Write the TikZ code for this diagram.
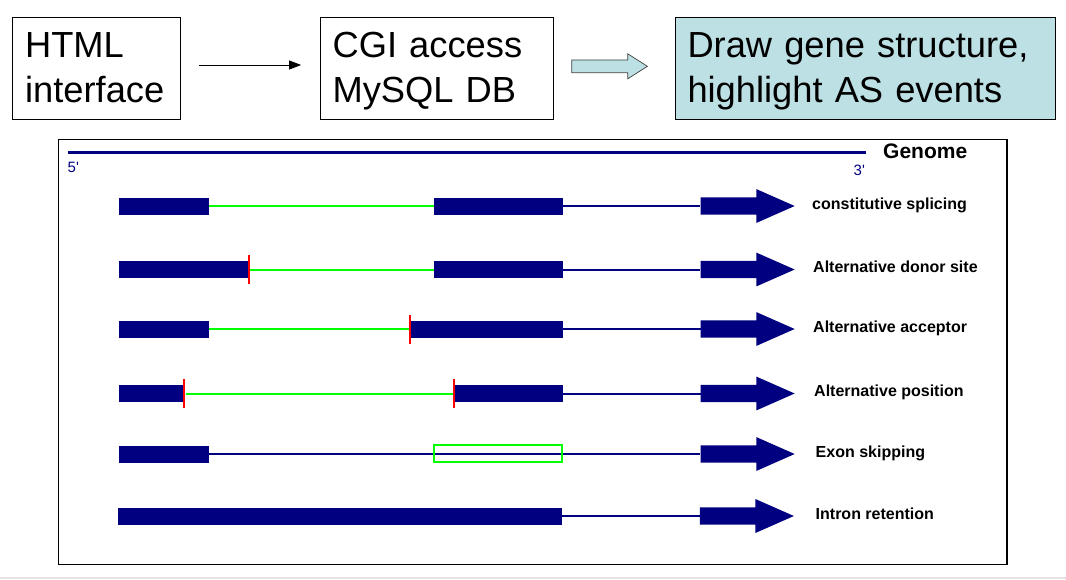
\documentclass[tikz,border=0pt]{standalone}
\usepackage{fontspec}
\setmainfont{Liberation Sans}
\usepackage{xcolor}
\usetikzlibrary{arrows.meta,positioning,shapes.arrows}
\definecolor{GeneNavy}{HTML}{000080}
\definecolor{DrawTeal}{HTML}{BCE0E3}
\definecolor{SpliceGreen}{HTML}{00FF00}
\definecolor{SiteRed}{HTML}{FF0000}
\definecolor{StripGray}{HTML}{E3E3E3}
\newcommand\boxstrut{\rule[-10pt]{0pt}{43pt}}

\begin{document}
\begin{tikzpicture}[x=1pt,y=-1pt,
  node distance=138.6pt,
  stepbox/.style={draw,line width=0.9pt,inner xsep=12.4pt,inner ysep=0pt,minimum height=102pt,align=left,font=\fontsize{36.3}{45}\selectfont},
  arrow/.style={-{Triangle[length=12pt,width=9pt]},line width=0.8pt},
  flowarrow/.style={single arrow,fill=DrawTeal,draw=black!75,line width=0.7pt,inner xsep=0pt,inner ysep=6pt,single arrow head extend=6.15pt,single arrow tip angle=65,minimum height=75.7pt,anchor=tail},
  exon/.style={fill=GeneNavy,inner sep=0pt,minimum height=17pt,anchor=west},
  site/.style={fill=SiteRed,inner sep=0pt,minimum width=2.5pt,minimum height=29pt},
  geneend/.style={single arrow,fill=GeneNavy,inner xsep=0pt,inner ysep=8.5pt,single arrow head extend=8.25pt,single arrow tip angle=47.6,minimum height=94pt,anchor=tail},
  intron/.style={GeneNavy,line width=2pt},
  spliced/.style={SpliceGreen,line width=2pt},
  event/.style={anchor=base west,inner sep=0pt,font=\fontsize{16}{19}\selectfont\bfseries},
  tick/.style={anchor=base west,inner sep=0pt,text=GeneNavy,font=\fontsize{15}{17}\selectfont}
]
  \useasboundingbox (0,0) rectangle (1066,579);
  \fill[StripGray] (0,576.7) rectangle (1066,579);

  \node[stepbox,text width=143.2pt] (html) at (96.7,68) {\boxstrut HTML\\\boxstrut interface};
  \node[stepbox,text width=208.2pt,right=of html] (cgi) {\boxstrut CGI access\\\boxstrut MySQL DB};
  \node[stepbox,text width=355.9pt,fill=DrawTeal,right=121pt of cgi] (gene) {\boxstrut Draw gene structure,\\\boxstrut highlight AS events};
  \draw[arrow,shorten <=18.3pt,shorten >=18.6pt] ([yshift=3pt]html.east) -- ([yshift=3pt]cgi.west);
  \node[flowarrow] (flow) at ([xshift=17.7pt,yshift=1.7pt]cgi.east) {};

  \draw[line width=1.2pt] (58.3,139.3) rectangle (1007,564.3);
  \coordinate (g5) at (68,152.5);
  \coordinate (g3) at (865.5,152.5);
  \draw[GeneNavy,line width=3pt] (g5) -- (g3);
  \node[tick] (five) at (67.5,172.3) {5\textquotesingle};
  \node[tick] (three) at (853.5,175) {3\textquotesingle};
  \node[anchor=base west,inner sep=0pt,font=\fontsize{21}{24}\selectfont\bfseries] (genome) at (883,158.5) {Genome};

  \node[exon,minimum width=90pt] (e11) at (119,206) {};
  \node[exon,minimum width=128.7pt] (e12) at (434,206) {};
  \node[geneend] (a1) at (700.5,206) {};
  \draw[spliced] (e11) -- (e12);
  \draw[intron] (e12) -- (a1);
  \node[event] (l1) at (812,209) {constitutive splicing};

  \node[exon,minimum width=129.5pt] (e21) at (119,269.5) {};
  \node[site] (s21) at (e21.east) {};
  \node[exon,minimum width=128.7pt] (e22) at (434,269.5) {};
  \node[geneend] (a2) at (700.5,269.5) {};
  \draw[spliced] (s21) -- (e22);
  \draw[intron] (e22) -- (a2);
  \node[event] (l2) at (813,272.5) {Alternative donor site};

  \node[exon,minimum width=90pt] (e31) at (119,329) {};
  \node[exon,minimum width=152.7pt] (e32) at (410,329) {};
  \node[site] (s32) at (e32.west) {};
  \node[geneend] (a3) at (700.5,329) {};
  \draw[spliced] (e31) -- (s32);
  \draw[intron] (e32) -- (a3);
  \node[event] (l3) at (813,332) {Alternative acceptor};

  \node[exon,minimum width=64.7pt] (e41) at (119,393.5) {};
  \node[site] (s41) at (e41.east) {};
  \node[exon,minimum width=108.7pt] (e42) at (454,393.5) {};
  \node[site] (s42) at (e42.west) {};
  \node[geneend] (a4) at (700.5,393.5) {};
  \draw[spliced] (s41) -- (s42);
  \draw[intron] (e42) -- (a4);
  \node[event] (l4) at (814,396.5) {Alternative position};

  \node[exon,minimum width=90pt] (e51) at (119,454) {};
  \node[geneend] (a5) at (700.5,454) {};
  \draw[intron] (e51) -- (a5);
  \node[draw=SpliceGreen,line width=2pt,inner sep=0pt,minimum width=128pt,minimum height=17pt] (skip) at (497.5,453.2) {};
  \node[event] (l5) at (815.5,457) {Exon skipping};

  \node[exon,minimum width=444pt] (e61) at (118,516) {};
  \node[geneend] (a6) at (699.7,516) {};
  \draw[intron] (e61) -- (a6);
  \node[event] (l6) at (815.5,519) {Intron retention};
\end{tikzpicture}
\end{document}
